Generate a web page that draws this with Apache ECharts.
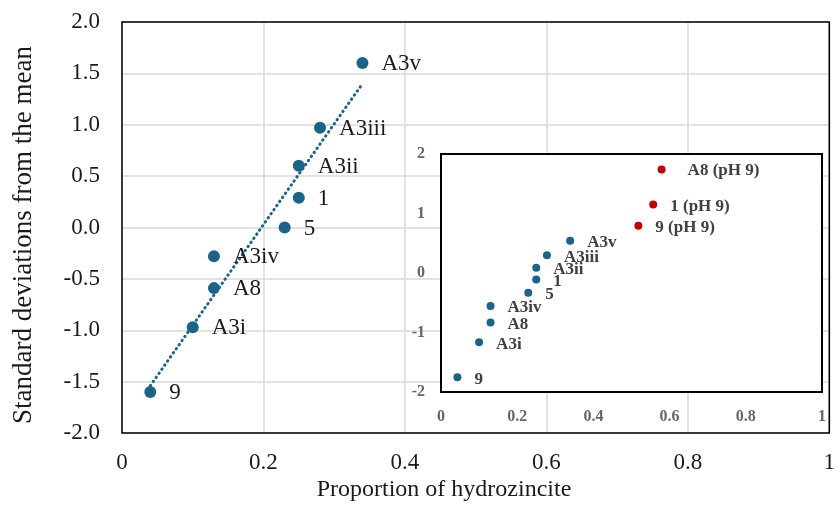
<!DOCTYPE html>
<html>
<head>
<meta charset="utf-8">
<script src="https://cdn.jsdelivr.net/npm/echarts@6/dist/echarts.min.js"></script>
<style>html,body{margin:0;padding:0;background:#fff}#c{width:838px;height:506px}</style>
</head>
<body>
<div id="c"></div>
<script>
// Main chart data
var mainNames = ['9', 'A3i', 'A8', 'A3iv', '5', '1', 'A3ii', 'A3iii', 'A3v'];
var mainX = [0.04, 0.10, 0.13, 0.13, 0.23, 0.25, 0.25, 0.28, 0.34];
var mainY = [-1.60, -0.97, -0.59, -0.28, 0.00, 0.29, 0.60, 0.97, 1.60];
var trendX = [0.04, 0.34];
var trendY = [-1.54, 1.40];
// Inset data
var insetNames = ['9', 'A3i', 'A8', 'A3iv', '5', '1', 'A3ii', 'A3iii', 'A3v'];
var insetX = [0.043, 0.10, 0.13, 0.13, 0.229, 0.25, 0.25, 0.278, 0.339];
var insetY = [-1.75, -1.165, -0.83, -0.555, -0.33, -0.11, 0.09, 0.30, 0.54];
var phNames = ['9 (pH 9)', '1 (pH 9)', 'A8 (pH 9)'];
var phX = [0.518, 0.557, 0.579];
var phY = [0.795, 1.15, 1.74];
// Tick labels
var xTicks = [0, 0.2, 0.4, 0.6, 0.8, 1];

var BLUE = '#1b6488', RED = '#c00000';
var SERIF = '"Liberation Serif", "Times New Roman", serif';

function pts(xs, ys, names) {
  return xs.map(function (x, i) { return { name: names ? names[i] : '', value: [x, ys[i]] }; });
}
function xFmt(v) { return (v === 0 || v === 1) ? String(v) : v.toFixed(1); }

var phData = pts(phX, phY, phNames);
phData.forEach(function (d) {
  if (d.name === 'A8 (pH 9)') d.label = { offset: [9, 1] };
});

var chart = echarts.init(document.getElementById('c'), null, { renderer: 'canvas' });
chart.setOption({
  animation: false,
  backgroundColor: '#fff',
  grid: [
    { left: 122, top: 22, right: 3, bottom: 73, show: true, borderColor: '#000', borderWidth: 1.5, backgroundColor: 'transparent', z: 5 },
    { left: 441, top: 154, right: 16, bottom: 114, show: true, borderColor: '#000', borderWidth: 2, backgroundColor: '#fff', z: 10 }
  ],
  xAxis: [
    { type: 'value', gridIndex: 0, min: 0, max: 1, interval: 0.2,
      axisLine: { show: false }, axisTick: { show: false },
      splitLine: { lineStyle: { color: '#d9d9d9', width: 1.5 } },
      axisLabel: { fontFamily: SERIF, fontSize: 23, color: '#1a1a1a', margin: 18, formatter: xFmt } },
    { type: 'value', gridIndex: 1, min: 0, max: 1, interval: 0.2, z: 11,
      axisLine: { show: false }, axisTick: { show: false }, splitLine: { show: false },
      axisLabel: { fontFamily: SERIF, fontSize: 16, fontWeight: 'bold', color: '#666', margin: 17, formatter: xFmt } }
  ],
  yAxis: [
    { type: 'value', gridIndex: 0, min: -2, max: 2, interval: 0.5,
      axisLine: { show: false }, axisTick: { show: false },
      splitLine: { lineStyle: { color: '#d9d9d9', width: 1.5 } },
      axisLabel: { fontFamily: SERIF, fontSize: 23, color: '#1a1a1a', margin: 22, formatter: function (v) { return v.toFixed(1); } } },
    { type: 'value', gridIndex: 1, min: -2, max: 2, interval: 1, z: 11,
      axisLine: { show: false }, axisTick: { show: false }, splitLine: { show: false },
      axisLabel: { fontFamily: SERIF, fontSize: 16, fontWeight: 'bold', color: '#666', margin: 16 } }
  ],
  series: [
    { type: 'line', xAxisIndex: 0, yAxisIndex: 0, data: pts(trendX, trendY), symbol: 'none', z: 1,
      lineStyle: { color: BLUE, width: 3, type: [0.5, 4.5], cap: 'round' } },
    { type: 'scatter', xAxisIndex: 0, yAxisIndex: 0, data: pts(mainX, mainY, mainNames), symbolSize: 12, z: 2,
      itemStyle: { color: BLUE, opacity: 1 },
      label: { show: true, position: 'right', distance: 13, formatter: '{b}', fontFamily: SERIF, fontSize: 23, color: '#1a1a1a', offset: [0, 1] } },
    { type: 'scatter', xAxisIndex: 1, yAxisIndex: 1, data: pts(insetX, insetY, insetNames), symbolSize: 8, z: 12,
      itemStyle: { color: BLUE, opacity: 1 },
      label: { show: true, position: 'right', distance: 13, formatter: '{b}', fontFamily: SERIF, fontSize: 17, fontWeight: 'bold', color: '#404040', offset: [0, 2] } },
    { type: 'scatter', xAxisIndex: 1, yAxisIndex: 1, data: phData, symbolSize: 8, z: 12,
      itemStyle: { color: RED, opacity: 1 },
      label: { show: true, position: 'right', distance: 13, formatter: '{b}', fontFamily: SERIF, fontSize: 17, fontWeight: 'bold', color: '#404040', offset: [0, 2] } }
  ],
  graphic: [
    { type: 'text', style: { text: 'Proportion of hydrozincite', font: '24px ' + SERIF, fill: '#1a1a1a', textAlign: 'center', textVerticalAlign: 'middle', x: 444, y: 490 } },
    { type: 'text', style: { text: 'Standard deviations from the mean', font: '27px ' + SERIF, fill: '#1a1a1a', textAlign: 'center', textVerticalAlign: 'middle' }, x: 24, y: 235, rotation: Math.PI / 2 }
  ]
});
</script>
</body>
</html>
